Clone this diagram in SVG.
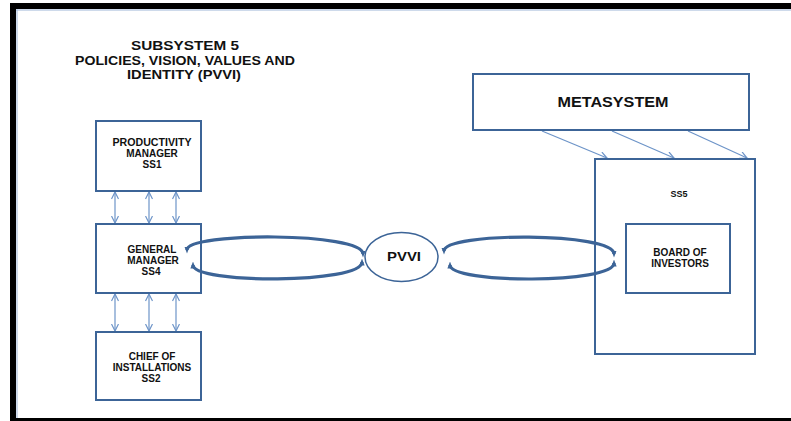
<svg xmlns="http://www.w3.org/2000/svg" width="791" height="421" viewBox="0 0 791 421">
<style>
.box{fill:#fff;stroke:#3C6497;stroke-width:2}
.t{font-family:"Liberation Sans",Arial,sans-serif;font-weight:bold;fill:#111;text-anchor:middle}
.bt{font-size:10px}
.thin{stroke:#6D94C8;stroke-width:1.2;fill:none}
.loop{stroke:#3C6497;stroke-width:3.2;fill:none;stroke-linecap:butt}
</style>
<defs>
<marker id="open" viewBox="0 0 8 8" refX="7.5" refY="4" markerWidth="8" markerHeight="8" markerUnits="userSpaceOnUse" orient="auto-start-reverse">
<path d="M0.5,0.5 L7.5,4 L0.5,7.5" fill="none" stroke="#6D94C8" stroke-width="1.2"/>
</marker>
<marker id="wedge" viewBox="0 0 8 8" refX="4" refY="4" markerWidth="7" markerHeight="7" markerUnits="userSpaceOnUse" orient="auto-start-reverse">
<path d="M0,1 L8,4 L0,7 Z" fill="#3C6497"/>
</marker>
</defs>
<rect width="791" height="421" fill="#fff"/>
<g id="frame">
<rect x="10" y="3" width="790" height="6" fill="#000"/>
<rect x="10" y="3" width="6" height="420" fill="#000"/>
<rect x="10" y="418" width="790" height="5" fill="#000"/>
<line x1="17" y1="9.5" x2="17" y2="418" stroke="#9DB5D8" stroke-width="1"/>
<line x1="16" y1="10" x2="791" y2="10" stroke="#9DB5D8" stroke-width="1"/>
</g>
<g id="title">
<text class="t" x="185" y="50" font-size="12" textLength="108" lengthAdjust="spacingAndGlyphs">SUBSYSTEM 5</text>
<text class="t" x="185" y="65" font-size="12" textLength="220" lengthAdjust="spacingAndGlyphs">POLICIES, VISION, VALUES AND</text>
<text class="t" x="184" y="79" font-size="12" textLength="114" lengthAdjust="spacingAndGlyphs">IDENTITY (PVVI)</text>
</g>
<g id="connectors">
<line class="thin" x1="115" y1="192" x2="115" y2="223" marker-start="url(#open)" marker-end="url(#open)"/>
<line class="thin" x1="149" y1="192" x2="149" y2="223" marker-start="url(#open)" marker-end="url(#open)"/>
<line class="thin" x1="176" y1="192" x2="176" y2="223" marker-start="url(#open)" marker-end="url(#open)"/>
<line class="thin" x1="115" y1="294" x2="115" y2="331" marker-start="url(#open)" marker-end="url(#open)"/>
<line class="thin" x1="149" y1="294" x2="149" y2="331" marker-start="url(#open)" marker-end="url(#open)"/>
<line class="thin" x1="176" y1="294" x2="176" y2="331" marker-start="url(#open)" marker-end="url(#open)"/>
<line class="thin" x1="542" y1="131" x2="607" y2="158" marker-end="url(#open)"/>
<line class="thin" x1="612" y1="131" x2="674" y2="158" marker-end="url(#open)"/>
<line class="thin" x1="688" y1="131" x2="747" y2="158" marker-end="url(#open)"/>
</g>
<g id="ss5">
<rect class="box" x="595" y="159" width="160" height="195"/>
<text class="t" x="679" y="197" font-size="9">SS5</text>
</g>
<g id="productivity">
<rect class="box" x="96" y="121" width="105" height="70"/>
<text class="t bt" x="152" y="146" textLength="79" lengthAdjust="spacingAndGlyphs">PRODUCTIVITY</text>
<text class="t bt" x="152" y="157">MANAGER</text>
<text class="t bt" x="152" y="168">SS1</text>
</g>
<g id="general">
<rect class="box" x="96" y="224" width="105" height="69"/>
<text class="t bt" x="152" y="253">GENERAL</text>
<text class="t bt" x="153" y="264">MANAGER</text>
<text class="t bt" x="151" y="275">SS4</text>
</g>
<g id="chief">
<rect class="box" x="96" y="332" width="105" height="68"/>
<text class="t bt" x="152" y="360">CHIEF OF</text>
<text class="t bt" x="152" y="371">INSTALLATIONS</text>
<text class="t bt" x="151" y="382">SS2</text>
</g>
<g id="pvvi">
<ellipse cx="401.5" cy="257" rx="36.5" ry="24.5" fill="#fff" stroke="#3C6497" stroke-width="1.5"/>
<text class="t" x="404" y="261" font-size="13" textLength="34" lengthAdjust="spacingAndGlyphs">PVVI</text>
</g>
<g id="metasystem">
<rect class="box" x="473" y="74" width="276" height="56"/>
<text class="t" x="613" y="107" font-size="15" textLength="111" lengthAdjust="spacingAndGlyphs">METASYSTEM</text>
</g>
<g id="board">
<rect class="box" x="626" y="224" width="104" height="69"/>
<text class="t bt" x="680" y="256">BOARD OF</text>
<text class="t bt" x="680" y="267">INVESTORS</text>
</g>
<g id="loops">
<path class="loop" d="M363 254 C363 232 187 232 187 250" marker-start="url(#wedge)" marker-end="url(#wedge)"/>
<path class="loop" d="M193 265 C193 284 362 284 362 262" marker-start="url(#wedge)" marker-end="url(#wedge)"/>
<path class="loop" d="M614 254 C614 232 444 232 444 251" marker-start="url(#wedge)" marker-end="url(#wedge)"/>
<path class="loop" d="M450 265 C450 284 614 284 614 263" marker-start="url(#wedge)" marker-end="url(#wedge)"/>
</g>
</svg>
